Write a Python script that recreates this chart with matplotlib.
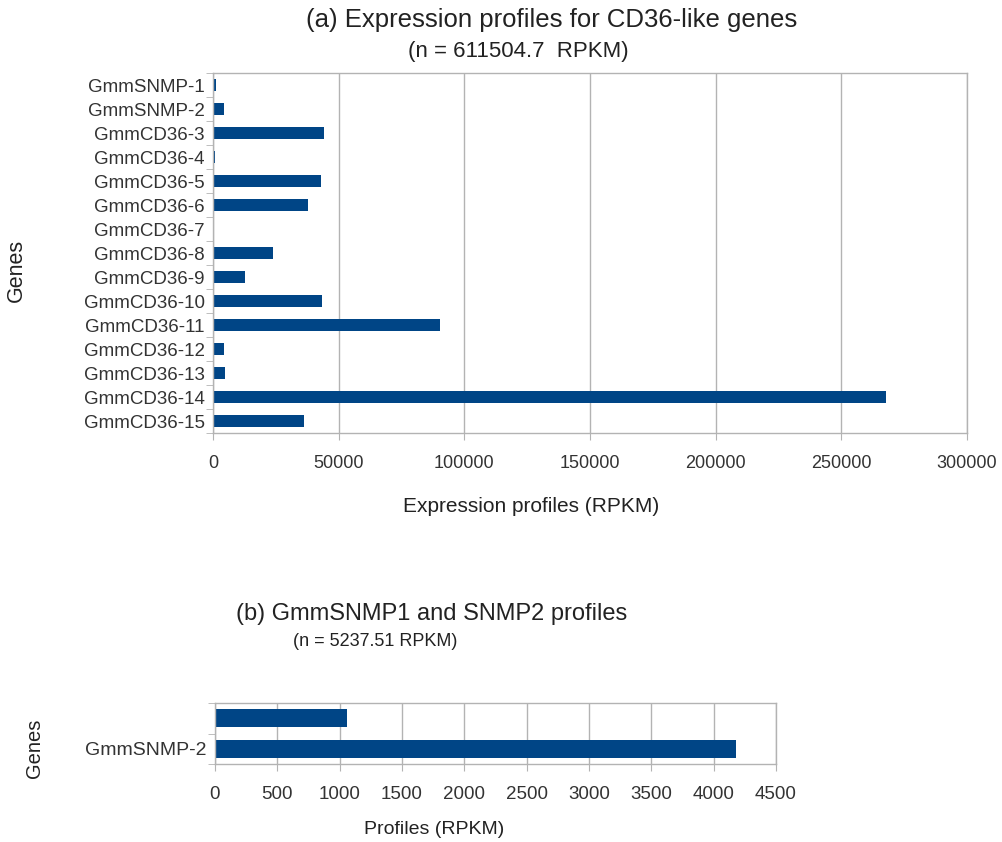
import numpy as np
import matplotlib.pyplot as plt
from matplotlib.ticker import FixedLocator

plt.rcParams['font.family'] = ['Liberation Sans', 'DejaVu Sans']

# (a) all CD36-like genes, top to bottom
genes_a = ['GmmSNMP-1', 'GmmSNMP-2', 'GmmCD36-3', 'GmmCD36-4', 'GmmCD36-5',
           'GmmCD36-6', 'GmmCD36-7', 'GmmCD36-8', 'GmmCD36-9', 'GmmCD36-10',
           'GmmCD36-11', 'GmmCD36-12', 'GmmCD36-13', 'GmmCD36-14', 'GmmCD36-15']
rpkm_a = [1055, 4182, 44200, 600, 43000, 37800, 200, 23900, 12700, 43400,
          90300, 4400, 4800, 267800, 36200]

# (b) SNMP1 / SNMP2 only (top label is blank in the original)
genes_b = ['', 'GmmSNMP-2']
rpkm_b = [1055, 4182]

blue = '#004586'
grey = '#b3b3b3'
txt = '#222222'

fig = plt.figure(figsize=(10.03, 8.42), dpi=100)
W, H = 1003, 842


def style_axes(ax, n, ysize, xsize):
    for s in ax.spines.values():
        s.set_color(grey)
        s.set_linewidth(1.0)
    ax.grid(axis='x', color=grey, linewidth=1.0)
    ax.set_axisbelow(True)
    ax.set_ylim(n - 0.5, -0.5)
    ax.yaxis.set_minor_locator(FixedLocator(np.arange(n + 1) - 0.5))
    ax.tick_params(axis='y', which='major', length=0, pad=6, labelsize=ysize, labelcolor='#333333')
    ax.tick_params(axis='y', which='minor', length=5, color=grey)
    ax.tick_params(axis='x', which='major', length=5, color=grey, labelsize=xsize,
                   labelcolor='#333333', pad=11)


# top chart
ax1 = fig.add_axes([213 / W, 1 - 433 / H, (967 - 213) / W, (433 - 73) / H])
y = np.arange(len(genes_a))
ax1.barh(y, rpkm_a, height=0.5, color=blue)
ax1.set_yticks(y)
ax1.set_yticklabels(genes_a)
ax1.set_xlim(0, 300000)
ax1.set_xticks(np.arange(0, 300001, 50000))
style_axes(ax1, len(genes_a), 13.5, 13)
fig.text(531 / W, 1 - 507 / H, 'Expression profiles (RPKM)',
         ha='center', va='center', fontsize=15, color=txt)
fig.text(16 / W, 1 - 270 / H, 'Genes', rotation=90,
         ha='center', va='center', fontsize=15.5, color=txt)
fig.text(552 / W, 1 - 20 / H, '(a) Expression profiles for CD36-like genes',
         ha='center', va='center', fontsize=18.5, color=txt)
fig.text(518 / W, 1 - 51 / H, '(n = 611504.7  RPKM)',
         ha='center', va='center', fontsize=16, color=txt)

# bottom chart
ax2 = fig.add_axes([215 / W, 1 - 764 / H, (776 - 215) / W, (764 - 703) / H])
y2 = np.arange(len(genes_b))
ax2.barh(y2, rpkm_b, height=0.6, color=blue)
ax2.set_yticks(y2)
ax2.set_yticklabels(genes_b)
ax2.set_xlim(0, 4500)
ax2.set_xticks(np.arange(0, 4501, 500))
style_axes(ax2, len(genes_b), 14, 13.5)
fig.text(434 / W, 1 - 830 / H, 'Profiles (RPKM)',
         ha='center', va='center', fontsize=14, color=txt)
fig.text(35 / W, 1 - 748 / H, 'Genes', rotation=90,
         ha='center', va='center', fontsize=14.5, color=txt)
fig.text(432 / W, 1 - 614 / H, '(b) GmmSNMP1 and SNMP2 profiles',
         ha='center', va='center', fontsize=17, color=txt)
fig.text(375 / W, 1 - 641 / H, '(n = 5237.51 RPKM)',
         ha='center', va='center', fontsize=13, color=txt)

fig.savefig('out.png', dpi=100)
